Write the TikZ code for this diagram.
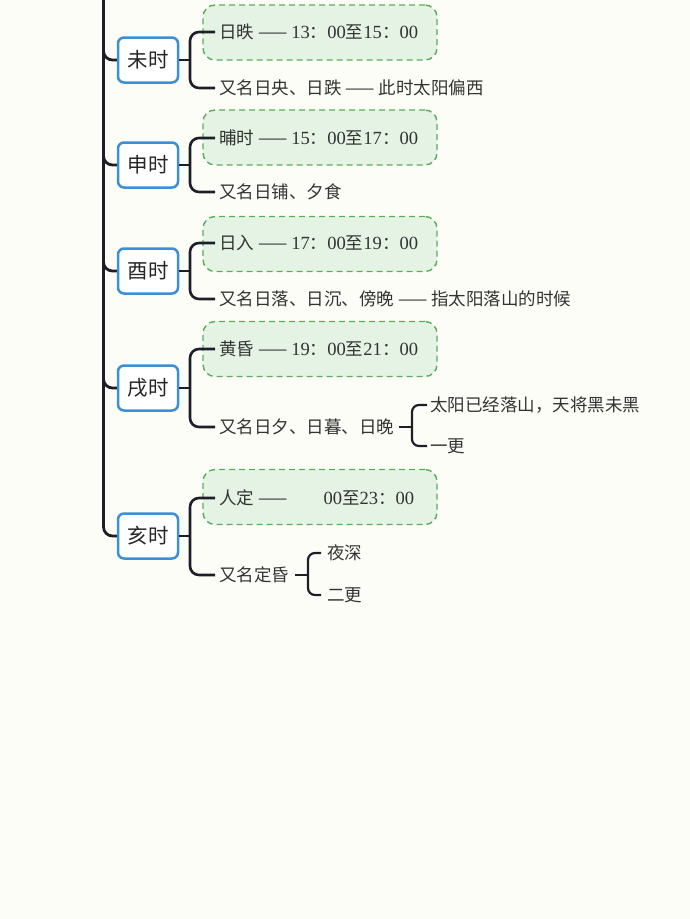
\documentclass[tikz,border=0pt]{standalone}
\usepackage{fontspec}
\setmainfont{Noto Sans CJK SC}
\newfontfamily\dig[Scale=1.06]{Liberation Serif}
\usetikzlibrary{calc}
\definecolor{trunkcol}{HTML}{1E1E2A}
\definecolor{shiblue}{HTML}{3A8FD8}
\definecolor{boxgreen}{HTML}{E4F3E4}
\definecolor{dashgreen}{HTML}{5AAE5A}
\definecolor{txt}{HTML}{333333}
\definecolor{bg}{HTML}{FDFDF8}
\tikzset{
  shi/.style={draw=shiblue, line width=2.5pt, rounded corners=6pt, fill=white,
    minimum width=60pt, minimum height=45pt, inner sep=0pt,
    font=\fontsize{20.5}{22}\selectfont, text=black!85},
  timebox/.style={draw=dashgreen, dash pattern=on 6pt off 4pt, line width=1.4pt,
    rounded corners=12pt, fill=boxgreen, minimum width=234pt, minimum height=55pt},
  leaf/.style={anchor=west, inner sep=0pt, text=txt, font=\fontsize{17.5}{20}\selectfont},
  branch/.style={draw=trunkcol, line width=2.6pt, rounded corners=9pt},
  twig/.style={draw=trunkcol, line width=2.2pt, rounded corners=7pt},
}
\newcommand{\timestr}[4]{{\dig #1}：{\dig #2}至{\dig #3}：{\dig #4}}

\begin{document}
\begin{tikzpicture}[x=1pt,y=-1pt]
    \fill[bg] (0,0) rectangle (690,919);
    \useasboundingbox (0,0) rectangle (690,919);
    \coordinate (top) at (103.5,0);
    % wei shi
    \node[timebox] (weiT) at (320,32.5) {};
    \node[shi] (wei) at (148,60) {未时};
    \node[leaf] (wei1) at (219,32) {日昳 —— \timestr{13}{00}{15}{00}};
    \node[leaf] (wei2) at (219,88) {又名日央、日跌 —— 此时太阳偏西};
    \coordinate (weiB) at (190,60);
    % shen shi
    \node[timebox] (shenT) at (320,137.5) {};
    \node[shi] (shen) at (148,165) {申时};
    \node[leaf] (shen1) at (219,138) {晡时 —— \timestr{15}{00}{17}{00}};
    \node[leaf] (shen2) at (219,192) {又名日铺、夕食};
    \coordinate (shenB) at (190,165);
    % you shi
    \node[timebox] (youT) at (320,244) {};
    \node[shi] (you) at (148,271) {酉时};
    \node[leaf] (you1) at (219,243) {日入 —— \timestr{17}{00}{19}{00}};
    \node[leaf] (you2) at (219,299) {又名日落、日沉、傍晚 —— 指太阳落山的时候};
    \coordinate (youB) at (190,271);
    % xu shi
    \node[timebox] (xuT) at (320,349) {};
    \node[shi] (xu) at (148,388) {戌时};
    \node[leaf] (xu1) at (219,349) {黄昏 —— \timestr{19}{00}{21}{00}};
    \node[leaf] (xu2) at (219,427) {又名日夕、日暮、日晚};
    \node[leaf] (xu21) at (430,405) {太阳已经落山，天将黑未黑};
    \node[leaf] (xu22) at (430,446) {一更};
    \coordinate (xuB) at (190,388);
    \coordinate (xu2B) at (412,427);
    % hai shi
    \node[timebox] (haiT) at (320,497) {};
    \node[shi] (hai) at (148,536) {亥时};
    \node[leaf] (hai1) at (219,498) {人定 ——\phantom{{\dig 21}：}{\dig 00}至{\dig 23}：{\dig 00}};
    \node[leaf] (hai2) at (219,575) {又名定昏};
    \node[leaf] (hai21) at (327,553) {夜深};
    \node[leaf] (hai22) at (327,595) {二更};
    \coordinate (haiB) at (190,536);
    \coordinate (hai2B) at (308,575);
    % trunk
    \foreach \s in {wei,shen,you,xu,hai}
        \draw[branch, line width=2.8pt] (top) |- (\s.west);
    % brackets
    \foreach \s in {wei,shen,you,xu,hai} {
        \draw[branch] (\s.east) -- (\s B);
        \draw[branch] ([xshift=-4pt]\s1.west) -| (\s B) |- ([xshift=-4pt]\s2.west);
    }
    \draw[twig] ([xshift=5pt]xu2.east) -- (xu2B);
    \draw[twig] ([xshift=-3pt]xu21.west) -| (xu2B) |- ([xshift=-3pt]xu22.west);
    \draw[twig] ([xshift=6pt]hai2.east) -- (hai2B);
    \draw[twig] ([xshift=-6pt]hai21.west) -| (hai2B) |- ([xshift=-6pt]hai22.west);
\end{tikzpicture}
\end{document}
